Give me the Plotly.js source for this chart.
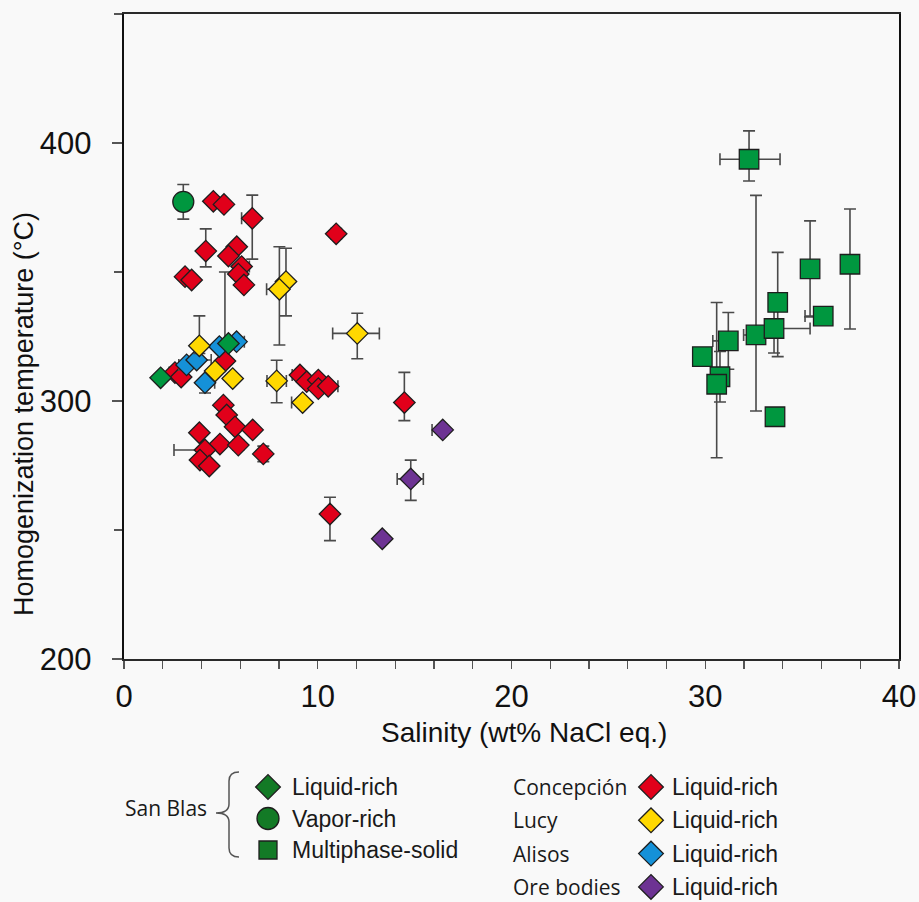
<!DOCTYPE html>
<html>
<head>
<meta charset="utf-8">
<script src="https://cdn.plot.ly/plotly-3.0.1.min.js"></script>
<style>html,body{margin:0;padding:0;background:#f9f9f9;}#chart{width:919px;height:902px;}</style>
</head>
<body>
<div id="chart"></div>
<script>
// ---- Data ----
// San Blas liquid-rich (green diamonds)
const sbLiqX = [1.89, 5.39];
const sbLiqY = [309.0, 322.3];
// San Blas vapor-rich (green circle)
const sbVapX = [3.06];
const sbVapY = [377.2];
const sbVapErrY = [6.7];
// San Blas multiphase-solid (green squares)
const sbMulX = [32.26, 32.62, 33.74, 35.41, 37.47, 36.09, 33.55, 31.19, 29.85, 30.76, 30.59, 33.60];
const sbMulY = [393.7, 325.6, 338.2, 351.2, 353.0, 332.9, 328.1, 323.3, 317.2, 309.4, 306.5, 293.9];
const sbMulErrYP = [11.0, 54.1, 19.4, 18.6, 21.4, 0, 9.6, 11.0, 2.5, 9.8, 31.7, 0];
const sbMulErrYM = [8.4, 29.5, 21.0, 18.6, 25.1, 0, 9.5, 11.0, 2.5, 9.8, 28.5, 0];
const sbMulErrXP = [1.6, 0, 0, 0, 0, 0, 1.86, 0, 0, 0, 0, 0];
const sbMulErrXM = [1.5, 0.64, 0, 0, 0.2, 0.94, 0, 0.8, 0, 0, 0.3, 0];
// Concepción liquid-rich (red diamonds)
const conX = [2.63, 2.95, 5.21, 5.13, 5.30, 5.73, 6.64, 3.89, 4.95, 5.90, 4.18, 7.19, 3.92, 4.40, 9.08, 9.43, 10.03, 10.03, 10.54, 14.47, 10.63, 4.61, 5.16, 6.62, 4.22, 5.82, 5.39, 6.07, 5.90, 6.19, 3.15, 3.49, 10.95];
const conY = [311.0, 309.3, 315.5, 298.4, 294.6, 290.0, 288.8, 287.7, 283.3, 282.9, 281.0, 279.5, 277.1, 274.8, 310.1, 307.5, 308.1, 304.8, 305.7, 299.4, 256.2, 377.4, 376.2, 370.8, 358.1, 359.8, 356.2, 352.1, 349.2, 345.0, 348.2, 346.9, 364.8];
const conErrYP = [0, 0, 34.5, 0, 0, 0, 0, 0, 0, 2, 0, 3, 0, 0, 1.5, 0, 0, 0, 0, 11.7, 6.5, 0, 0, 9, 8.6, 0, 0, 0, 0, 0, 0, 0, 2];
const conErrYM = [0, 0, 0, 0, 0, 0, 0, 0, 0, 2, 0, 3, 0, 0, 1.5, 0, 0, 0, 0, 7, 10.3, 0, 0, 15.8, 6.1, 0, 0, 0, 0, 0, 0, 0, 2];
const conErrXP = [0, 0, 0, 0, 0, 0, 0, 0, 0, 0, 0, 0, 0, 0, 0, 0, 0, 0, 0.5, 0, 0, 0, 0, 0, 0, 0, 0, 0.4, 0, 0, 0, 0, 0];
const conErrXM = [0.3, 0, 0, 0, 0, 0, 0, 0, 0, 0, 1.6, 0, 0, 0, 0.4, 0, 0, 0, 0, 0, 0, 0, 0, 0.55, 0, 0, 0, 0, 0, 0, 0, 0, 0];
// Lucy liquid-rich (yellow diamonds)
const lucyX = [3.89, 4.70, 5.61, 7.88, 9.22, 12.04, 8.36, 8.02];
const lucyY = [321.4, 311.6, 308.7, 307.8, 299.4, 326.2, 346.3, 343.3];
const lucyErrYP = [11.6, 0, 0, 8, 0, 7.8, 12.9, 16.5];
const lucyErrYM = [3, 0, 0, 8.5, 0, 9.8, 13.3, 21.6];
const lucyErrXP = [0, 0, 0, 0.5, 0, 1.14, 0, 0];
const lucyErrXM = [0, 0, 0, 0.5, 0.57, 1.27, 0, 0.66];
// Alisos liquid-rich (blue diamonds)
const aliX = [3.23, 3.75, 4.92, 5.81, 4.18];
const aliY = [314.0, 315.9, 321.1, 323.0, 307.1];
const aliErrYP = [0, 0, 0, 0, 0];
const aliErrYM = [0, 0, 0, 0, 4];
const aliErrXP = [0, 0.75, 0, 0.4, 0.5];
const aliErrXM = [0.4, 0, 0, 0, 0];
// Ore bodies liquid-rich (purple diamonds)
const oreX = [16.45, 14.80, 13.33];
const oreY = [288.8, 269.8, 246.6];
const oreErrYP = [0, 7.3, 0];
const oreErrYM = [0, 8.3, 0];
const oreErrXP = [0, 0.65, 0];
const oreErrXM = [0.55, 0.7, 0];

// Axis ticks and titles
const xTickVals = [0, 10, 20, 30, 40];
const yTickVals = [200, 300, 400];
const xTitle = 'Salinity (wt% NaCl eq.)';
const yTitle = 'Homogenization temperature (°C)';

// Legend content
const legLeftGroup = 'San Blas';
const legLeftLabels = ['Liquid-rich', 'Vapor-rich', 'Multiphase-solid'];
const legLeftSymbols = ['diamond', 'circle', 'square'];
const legRightGroups = ['Concepción', 'Lucy', 'Alisos', 'Ore bodies'];
const legRightLabels = ['Liquid-rich', 'Liquid-rich', 'Liquid-rich', 'Liquid-rich'];

// ---- Styles ----
const GREEN = '#00973f', GREEN_LEG = '#137a26', RED = '#e1001a', YELLOW = '#ffd800', BLUE = '#1591d8', PURPLE = '#6d3393';
const ERRC = '#4a4a4a';
const OUT = {color: '#1e1e1e', width: 1.3};

function ebar(plus, minus) {
  return {type: 'data', symmetric: false, array: plus, arrayminus: minus, color: ERRC, thickness: 1.6, width: 6};
}
function sc(x, y, sym, color, size, ey, ex, name) {
  const t = {x: x, y: y, type: 'scatter', mode: 'markers', name: name, showlegend: false,
    marker: {symbol: sym, color: color, size: size, opacity: 1, line: OUT}, xaxis: 'x', yaxis: 'y'};
  if (ey) t.error_y = ey;
  if (ex) t.error_x = ex;
  return t;
}
const DS = 16.5; // diamond size
const traces = [
  sc(sbMulX, sbMulY, 'square', GREEN, 19.5, ebar(sbMulErrYP, sbMulErrYM), ebar(sbMulErrXP, sbMulErrXM), 'San Blas multiphase-solid'),
  sc(conX, conY, 'diamond', RED, DS, ebar(conErrYP, conErrYM), ebar(conErrXP, conErrXM), 'Concepción'),
  sc(aliX, aliY, 'diamond', BLUE, DS, ebar(aliErrYP, aliErrYM), ebar(aliErrXP, aliErrXM), 'Alisos'),
  sc(lucyX, lucyY, 'diamond', YELLOW, DS, ebar(lucyErrYP, lucyErrYM), ebar(lucyErrXP, lucyErrXM), 'Lucy'),
  sc(sbLiqX, sbLiqY, 'diamond', GREEN, DS, null, null, 'San Blas liquid-rich'),
  sc(sbVapX, sbVapY, 'circle', GREEN, 21, ebar(sbVapErrY, sbVapErrY), null, 'San Blas vapor-rich'),
  sc(oreX, oreY, 'diamond', PURPLE, DS, ebar(oreErrYP, oreErrYM), ebar(oreErrXP, oreErrXM), 'Ore bodies')
];

// ---- Legend drawn on an auxiliary pixel-unit axis ----
const legRow0 = 787, legLeftStep = 31.5, legRightStep = 33.3;
const legLeftMarkX = 268, legLeftTextX = 291, legRightGroupX = 512, legRightMarkX = 651, legRightTextX = 671;
const legRightColors = [RED, YELLOW, BLUE, PURPLE];
const legLeftY = legLeftLabels.map((_, i) => legRow0 + i * legLeftStep);
const legRightY = legRightGroups.map((_, i) => legRow0 + i * legRightStep);
const legSizes = {diamond: 19, circle: 22, square: 18};
traces.push({x: legLeftY.map(() => legLeftMarkX), y: legLeftY, type: 'scatter', mode: 'markers', showlegend: false, hoverinfo: 'skip',
  xaxis: 'x2', yaxis: 'y2', marker: {symbol: legLeftSymbols, size: legLeftSymbols.map(s => legSizes[s]), opacity: 1, color: GREEN_LEG, line: OUT}});
traces.push({x: legRightY.map(() => legRightMarkX), y: legRightY, type: 'scatter', mode: 'markers', showlegend: false, hoverinfo: 'skip',
  xaxis: 'x2', yaxis: 'y2', marker: {symbol: 'diamond', size: 19, opacity: 1, color: legRightColors, line: OUT}});

const ARIAL = 'Liberation Sans, Arial, sans-serif';
const HUM = 'Open Sans, Noto Sans, sans-serif';
const annotations = [];
legLeftLabels.forEach((t, i) => annotations.push({xref: 'x2', yref: 'y2', x: legLeftTextX, y: legLeftY[i], text: t, showarrow: false,
  xanchor: 'left', yanchor: 'middle', borderpad: 0, font: {family: ARIAL, size: 23, color: '#1a1a1a'}}));
legRightLabels.forEach((t, i) => annotations.push({xref: 'x2', yref: 'y2', x: legRightTextX, y: legRightY[i], text: t, showarrow: false,
  xanchor: 'left', yanchor: 'middle', borderpad: 0, font: {family: ARIAL, size: 23, color: '#1a1a1a'}}));
legRightGroups.forEach((t, i) => annotations.push({xref: 'x2', yref: 'y2', x: legRightGroupX, y: legRightY[i], text: t, showarrow: false,
  xanchor: 'left', yanchor: 'middle', borderpad: 0, font: {family: HUM, size: 21, color: '#1a1a1a'}}));
annotations.push({xref: 'x2', yref: 'y2', x: 208, y: 808, text: legLeftGroup, showarrow: false,
  xanchor: 'right', yanchor: 'middle', borderpad: 0, font: {family: HUM, size: 21, color: '#1a1a1a'}});

const W = 919, H = 902, T = 14, L = 124, R = 20, PLOT_BOTTOM = 659;
const areaH = H - T, areaW = W - L - R;
const mainDomY0 = (H - PLOT_BOTTOM) / areaH;
const legDomY1 = 0.26;
const legTop = H - legDomY1 * areaH;
const px2paperX = px => (px - L) / areaW;
const px2paperY = py => (H - py) / areaH;

// Axis titles (placed as in the reference)
annotations.push({xref: 'paper', yref: 'paper', x: px2paperX(524), y: px2paperY(732), text: xTitle, showarrow: false,
  xanchor: 'center', yanchor: 'middle', borderpad: 0, font: {family: ARIAL, size: 28, color: '#111'}});
annotations.push({xref: 'paper', yref: 'paper', x: px2paperX(24), y: px2paperY(414), text: yTitle, showarrow: false, textangle: -90,
  xanchor: 'center', yanchor: 'middle', borderpad: 0, font: {family: ARIAL, size: 27, color: '#111'}});

const layout = {
  width: W, height: H,
  margin: {l: L, r: R, t: T, b: 0},
  paper_bgcolor: '#f9f9f9', plot_bgcolor: '#f9f9f9',
  showlegend: false,
  xaxis: {
    domain: [0, 1], anchor: 'y', range: [0, 40], tickvals: xTickVals, ticks: 'outside', ticklen: 8, tickwidth: 1.2, tickcolor: '#555',
    minor: {dtick: 2, ticks: 'outside', ticklen: 8, tickwidth: 1.2, tickcolor: '#555', showgrid: false},
    showgrid: false, zeroline: false, showline: true, linecolor: '#2a2a2a', linewidth: 2, mirror: true,
    tickfont: {family: ARIAL, size: 31, color: '#111'}, ticklabelstandoff: 1,
    automargin: false, fixedrange: true
  },
  yaxis: {
    domain: [mainDomY0, 1], anchor: 'x', range: [200, 450], tickvals: yTickVals, ticks: 'outside', ticklen: 10, tickwidth: 1.2, tickcolor: '#555',
    minor: {dtick: 50, ticks: 'outside', ticklen: 8, tickwidth: 1.2, tickcolor: '#555', showgrid: false},
    showgrid: false, zeroline: false, showline: true, linecolor: '#111', linewidth: 2.2, mirror: true,
    tickfont: {family: ARIAL, size: 31, color: '#111'}, ticklabelstandoff: 14,
    automargin: false, fixedrange: true
  },
  xaxis2: {domain: [0, 1], anchor: 'y2', range: [L, W - R], visible: false, fixedrange: true},
  yaxis2: {domain: [0, legDomY1], anchor: 'x2', range: [H, legTop], visible: false, fixedrange: true},
  annotations: annotations,
  shapes: [
    {type: 'path', xref: 'x2', yref: 'y2', path: 'M 239 772 Q 229 772 229 781 L 229 804 Q 229 813 216 813 Q 229 813 229 822 L 229 848 Q 229 857 239 857',
     line: {color: '#555', width: 1.5}}
  ]
};

Plotly.newPlot('chart', traces, layout, {staticPlot: true, displayModeBar: false});
</script>
</body>
</html>
